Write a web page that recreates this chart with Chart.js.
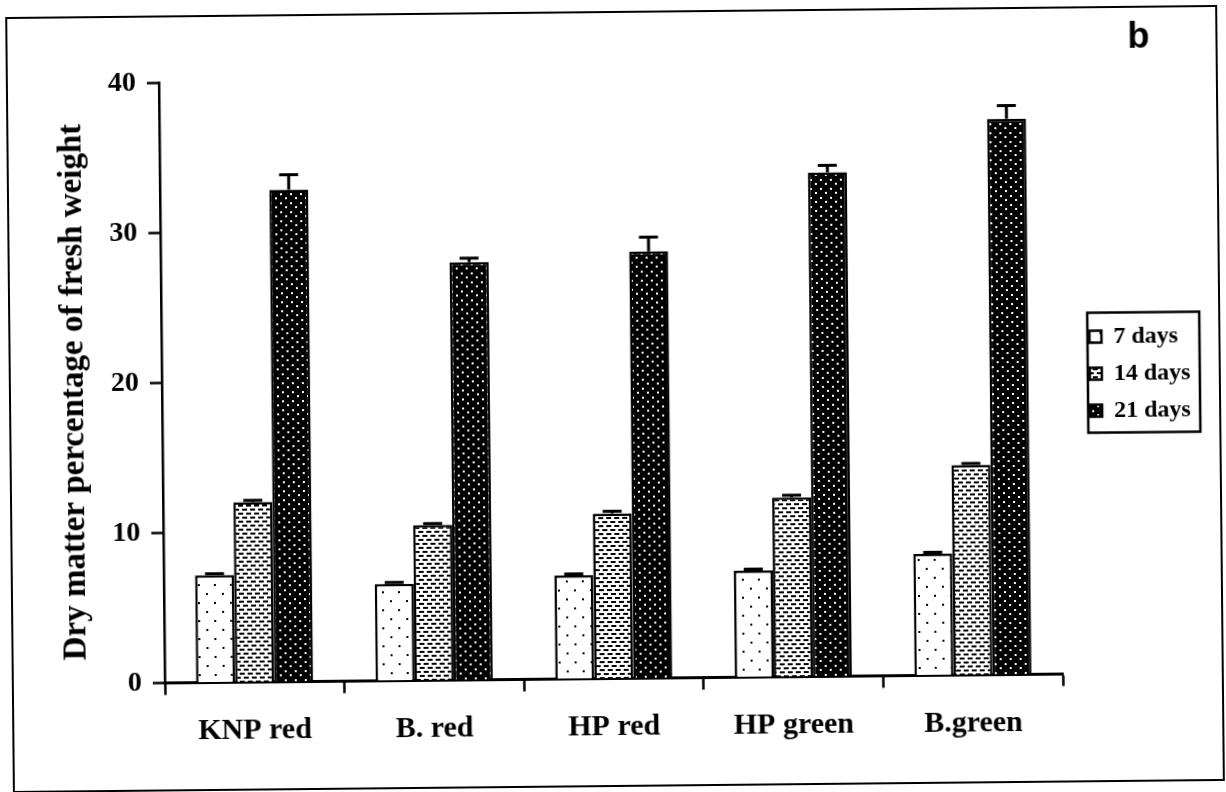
<!DOCTYPE html>
<html>
<head>
<meta charset="utf-8">
<script src="https://cdn.jsdelivr.net/npm/chart.js@4"></script>
<style>
  html,body{margin:0;padding:0;background:#fff;overflow:hidden;}
  #wrap{position:absolute;left:0;top:0;width:1226px;height:792px;transform:rotate(-0.57deg);transform-origin:613px 396px;}
</style>
</head>
<body>
<div id="wrap"><canvas id="c" width="1226" height="792"></canvas></div>
<script>
// ---- data ----
const categories = ["KNP red", "B. red", "HP red", "HP green", "B.green"];
const seriesLabels = ["7 days", "14 days", "21 days"];
const days7  = [7.15, 6.45, 6.9, 7.1, 8.1];
const days14 = [12.0, 10.35, 11.0, 11.95, 14.0];
const days21 = [32.8, 27.85, 28.45, 33.6, 37.05];
const err7  = [0.1, 0.1, 0.1, 0.1, 0.1];
const err14 = [0.12, 0.1, 0.15, 0.15, 0.1];
const err21 = [1.0, 0.27, 0.95, 0.47, 0.88];
const yTicks = [0, 10, 20, 30, 40];

// ---- patterns ----
function makePattern(w, h, bg, fg, rects) {
  const c = document.createElement('canvas');
  c.width = w; c.height = h;
  const g = c.getContext('2d');
  g.fillStyle = bg; g.fillRect(0, 0, w, h);
  g.fillStyle = fg;
  rects.forEach(r => g.fillRect(r[0], r[1], r[2], r[3]));
  return g.createPattern(c, 'repeat');
}
const ctx = document.getElementById('c').getContext('2d');
const pat7  = makePattern(16, 18, '#fff', '#000', [[4,4,2,2],[12,13,2,2]]);
const pat14 = makePattern(8, 8, '#fff', '#000', [[1,1,5,2],[5,5,3,2],[0,5,2,2]]);
const pat21 = makePattern(10, 9, '#000', '#fff', [[2,1,2,2],[7,5,2,2]]);

// legend sizing
const LEG_FONT = 24, LEG_BOX = 12, LEG_PAD = 13;
ctx.font = 'bold ' + LEG_FONT + 'px "Liberation Serif"';
const legTextW = Math.max(...seriesLabels.map(s => ctx.measureText(s).width));
const legW = LEG_PAD + LEG_BOX + LEG_FONT / 2 + legTextW + 10;
const padRight = 1226 - 1060 - legW;

const errorBars = {
  id: 'errorBars',
  afterDatasetsDraw(chart) {
    const c = chart.ctx, y = chart.scales.y;
    const errs = [err7, err14, err21];
    chart.data.datasets.forEach((ds, di) => {
      const meta = chart.getDatasetMeta(di);
      meta.data.forEach((bar, i) => {
        const v = ds.data[i], e = errs[di][i];
        const yTop = y.getPixelForValue(v + e);
        const yBar = y.getPixelForValue(v);
        c.save();
        c.strokeStyle = '#000';
        c.lineWidth = 3;
        c.beginPath();
        c.moveTo(bar.x, yBar); c.lineTo(bar.x, yTop);
        c.moveTo(bar.x - 9.5, yTop); c.lineTo(bar.x + 9.5, yTop);
        c.stroke();
        c.restore();
      });
    });
  }
};

const decor = {
  id: 'decor',
  afterLayout(chart) {
    const lg = chart.legend;
    if (!lg) return;
    const w = lg.width;
    lg.left = 1090 - LEG_PAD; lg.right = lg.left + w;
    lg.top = 78.5; lg.bottom = 678.5; lg.height = 600;
  },
  afterDraw(chart) {
    const c = chart.ctx;
    c.save();
    c.strokeStyle = '#000';
    c.lineWidth = 2;
    c.strokeRect(10, 12, 1210, 774);
    // legend frame
    const hb = chart.legend.legendHitBoxes;
    if (hb && hb.length) {
      const top = hb[0].top - 12;
      const bot = hb[hb.length - 1].top + hb[hb.length - 1].height + 10;
      const l = hb[0].left - 2;
      c.lineWidth = 2.5;
      c.strokeRect(l, top, 1200 - l, bot - top);
    }
    c.fillStyle = '#000';
    c.font = 'bold 36px "Liberation Sans"';
    c.textAlign = 'center'; c.textBaseline = 'middle';
    c.fillText('b', 1142, 43);
    c.restore();
  }
};

Chart.defaults.font.family = '"Liberation Serif"';
Chart.defaults.font.weight = 'bold';
Chart.defaults.color = '#000';

new Chart(ctx, {
  type: 'bar',
  data: {
    labels: categories,
    datasets: [
      { label: seriesLabels[0], data: days7,  backgroundColor: pat7,  borderColor: '#000', borderWidth: 2.5 },
      { label: seriesLabels[1], data: days14, backgroundColor: pat14, borderColor: '#000', borderWidth: 2.5 },
      { label: seriesLabels[2], data: days21, backgroundColor: pat21, borderColor: '#000', borderWidth: 2.5 }
    ]
  },
  options: {
    responsive: false,
    animation: false,
    devicePixelRatio: 1,
    layout: { padding: { left: 10, top: 78.5, right: padRight, bottom: 0 } },
    datasets: { bar: { categoryPercentage: 0.652, barPercentage: 1.0 } },
    plugins: {
      legend: {
        position: 'right',
        labels: {
          boxWidth: LEG_BOX, boxHeight: LEG_BOX, padding: LEG_PAD,
          font: { size: LEG_FONT, weight: 'bold', family: '"Liberation Serif"' },
          color: '#000'
        }
      },
      tooltip: { enabled: false }
    },
    scales: {
      x: {
        afterFit(s) { s.height = 113.5; },
        grid: { display: true, drawOnChartArea: false, drawTicks: true, tickLength: 12, tickWidth: 2.5, tickColor: '#000', offset: true },
        border: { display: true, color: '#000', width: 3 },
        ticks: { font: { size: 30, weight: 'bold' }, padding: 19, color: '#000' }
      },
      y: {
        min: 0, max: 40,
        afterFit(s) { s.width = 152; },
        afterBuildTicks(s) { s.ticks = yTicks.map(v => ({ value: v })); },
        grid: { display: true, drawOnChartArea: false, drawTicks: true, tickLength: 12, tickWidth: 2.5, tickColor: '#000' },
        border: { display: true, color: '#000', width: 2.5 },
        ticks: { font: { size: 28, weight: 'bold' }, padding: 11, color: '#000' },
        title: {
          display: true,
          text: 'Dry matter percentage of fresh weight\u00a0\u00a0',
          font: { size: 33, weight: 'bold' },
          padding: { top: 45, bottom: 0 },
          color: '#000'
        }
      }
    }
  },
  plugins: [errorBars, decor]
});
</script>
</body>
</html>
